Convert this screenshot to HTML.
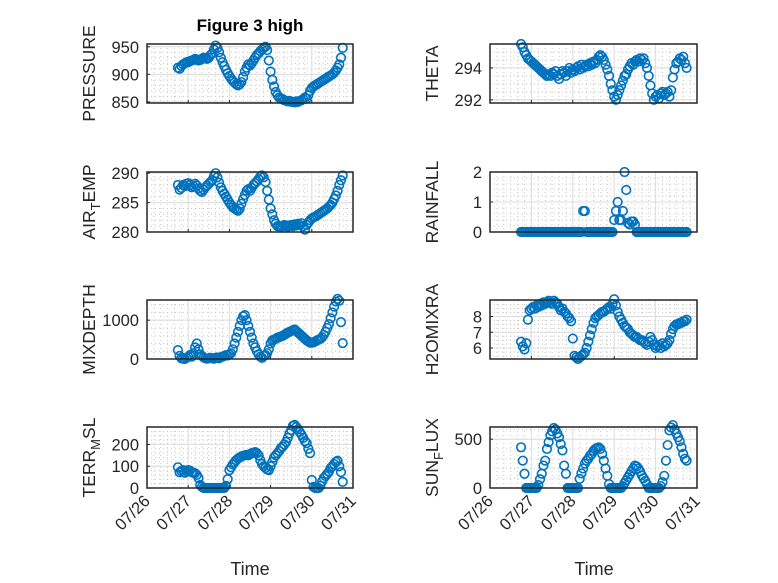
<!DOCTYPE html>
<html><head><meta charset="utf-8"><style>
html,body{margin:0;padding:0;background:#fff;}
svg{display:block;font-family:"Liberation Sans",sans-serif;}
</style></head><body>
<svg id="fig" width="778" height="583" viewBox="0 0 778 583" xmlns="http://www.w3.org/2000/svg">
<rect x="0" y="0" width="778" height="583" fill="#fff"/>
<text x="250" y="31" text-anchor="middle" font-size="17" font-weight="bold" fill="#000">Figure 3 high</text>
<text x="250" y="575" text-anchor="middle" font-size="18" fill="#262626">Time</text>
<text x="594" y="575" text-anchor="middle" font-size="18" fill="#262626">Time</text>
</svg>
<script>
const dayTicks = [26, 27, 28, 29, 30, 31];
const dayLabels = ["07/26", "07/27", "07/28", "07/29", "07/30", "07/31"];
const startDay = 26.75;
const hoursPerStep = 1;
const pressure = [912,910,915,918,920,922,922,
924,925,926,928,927,925,926,928,930,929,928,930,
935,938,945,952,948,940,
930,922,915,908,902,897,
892,888,885,882,880,882,886,
895,905,912,918,916,920,
925,930,935,938,942,945,
948,950,944,925,905,
890,878,868,862,858,856,
855,853,852,851,852,850,
850,849,851,850,852,853,
855,858,856,862,870,875,
878,880,882,884,886,888,
890,892,894,896,898,900,
903,907,912,918,930,948];
const theta = [295.5,295.3,295.0,294.8,294.6,294.5,294.4,
294.3,294.2,294.1,294.0,293.9,293.8,293.7,293.6,293.5,293.6,293.5,293.7,
293.6,293.8,293.5,293.3,293.6,293.8,
293.7,293.5,293.8,294.0,293.7,293.9,
293.8,294.0,294.1,293.9,294.2,294.0,294.1,
294.2,294.1,294.3,294.2,294.4,294.3,
294.5,294.7,294.8,294.7,294.5,294.2,
293.9,293.5,293.0,292.6,292.2,
292.0,292.3,292.6,292.9,293.2,293.5,
293.6,293.9,294.1,294.3,294.2,294.4,
294.5,294.4,294.6,294.5,294.6,294.3,
294.0,293.5,292.9,292.4,292.0,292.2,
292.3,292.1,292.4,292.5,292.3,292.4,
292.5,292.2,292.6,293.4,293.9,294.3,
294.4,294.6,294.5,294.7,294.3,294.0];
const airTemp = [288.0,287.2,287.5,288.0,287.8,288.2,288.3,
288.0,287.6,287.8,288.2,287.9,287.4,287.0,286.8,287.2,287.6,287.9,288.2,
288.5,288.8,289.5,290.0,289.3,288.4,
287.6,287.0,286.5,286.0,285.5,285.0,
284.6,284.2,284.0,283.8,283.6,284.0,284.8,
285.6,286.3,287.0,287.3,287.0,287.5,
288.0,288.3,288.6,289.0,289.4,289.6,
289.3,288.5,287.0,285.5,284.0,
283.0,282.0,281.4,281.0,281.0,280.9,
281.0,281.2,281.0,280.9,281.1,281.2,
281.0,281.3,281.1,281.4,281.2,281.5,
281.0,280.4,281.2,281.6,282.0,282.3,
282.5,282.6,282.8,283.0,283.2,283.4,
283.6,283.8,284.0,284.3,284.6,285.0,
285.6,286.2,287.0,288.0,288.8,289.6];
const rainfall = [0,0,0,0,0,0,0,
0,0,0,0,0,0,0,0,0,0,0,0,
0,0,0,0,0,0,
0,0,0,0,0,0,
0,0,0,0,0,0.7,0.7,
0,0,0,0,0,0,
0,0,0,0,0,0,
0,0,0,0,0.4,
0.7,1.0,0.4,0.4,0.7,2.0,
1.4,0.3,0.25,0.35,0.35,0.25,
0,0,0,0,0,0,
0,0,0,0,0,0,
0,0,0,0,0,0,
0,0,0,0,0,0,
0,0,0,0,0,0];
const mixDepth = [230,80,20,10,0,30,60,
100,60,150,300,400,250,120,80,40,20,10,20,
30,20,10,30,40,20,
50,60,80,100,90,120,
150,250,400,550,700,850,1000,
1100,1130,1000,850,700,550,
400,300,200,120,60,30,
80,100,150,250,400,
480,500,520,550,560,580,
600,620,650,680,700,720,
740,760,720,680,640,600,
560,520,480,450,420,420,
430,450,480,500,520,560,
620,700,800,900,1050,1200,
1350,1480,1550,1500,950,410];
const h2oMix = [6.4,6.1,5.9,6.3,7.8,8.4,8.5,
8.6,8.5,8.7,8.6,8.8,8.7,8.9,8.8,8.9,9.0,8.9,8.8,
9.0,8.9,8.8,8.6,8.4,8.5,
8.3,8.2,8.0,7.9,7.7,6.6,
5.5,5.4,5.3,5.4,5.5,5.6,5.7,
6.0,6.4,6.8,7.2,7.6,7.9,
8.0,8.1,8.2,8.3,8.3,8.4,
8.5,8.6,8.5,8.8,9.1,
8.7,8.3,8.0,7.8,7.6,7.4,
7.3,7.2,7.0,6.9,6.8,6.7,
6.7,6.6,6.5,6.5,6.4,6.3,
6.2,6.4,6.7,6.5,6.2,6.0,
6.1,6.2,6.0,6.3,6.1,6.2,
6.3,6.5,6.9,7.2,7.4,7.5,
7.5,7.6,7.6,7.7,7.7,7.8];
const terrMsl = [95,72,78,82,70,76,82,
80,72,70,68,60,46,14,5,0,0,0,0,
0,0,0,0,0,0,
0,0,0,10,40,82,
95,108,118,128,135,140,145,
148,150,152,150,155,160,
162,165,160,150,128,110,
100,92,85,82,100,
120,140,150,160,170,183,
190,200,211,230,250,266,
285,290,280,270,257,245,
230,215,206,180,160,37,
5,0,0,0,10,30,
46,55,65,75,92,100,
110,120,125,100,73,28];
const sunFlux = [417,280,146,0,0,0,0,
0,0,0,30,90,146,230,280,400,470,540,580,
615,600,560,520,450,385,
230,146,0,0,0,0,
0,0,0,94,150,200,250,
280,300,330,350,380,400,
410,417,400,350,280,200,
125,40,0,0,0,
0,0,0,0,20,50,
80,110,140,170,200,230,
220,200,170,130,100,73,
40,0,0,0,0,0,
0,0,20,60,125,280,
440,590,620,645,600,560,
520,480,417,350,300,280];

const panelNames = ["pressure","theta","air-temp","rainfall","mixdepth","h2omixra","terr-msl","sunflux"];
const panelLabels = [["PRESSURE"],["THETA"],["AIR","T","EMP"],["RAINFALL"],["MIXDEPTH"],["H2OMIXRA"],["TERR","M","SL"],["SUN","F","LUX"]];
const panelSeries = [pressure, theta, airTemp, rainfall, mixDepth, h2oMix, terrMsl, sunFlux];
const panelYLim = [[848,955],[291.8,295.5],[280,290.2],[0,2],[0,1520],[5.3,9.05],[0,280],[0,625]];
const panelYTicks = [[850,900,950],[292,294],[280,285,290],[0,1,2],[0,1000],[6,7,8],[0,100,200],[0,500]];
const panelYMinor = [10,0.5,1,0.2,200,0.25,20,100];

const svg = document.getElementById('fig');
const NS = 'http://www.w3.org/2000/svg';
const colX = [[147,353],[490,697]];
const rowY = [[44,103],[172,232],[300,359],[427,488]];
function mk(tag, attrs, parent){const e=document.createElementNS(NS,tag);for(const k in attrs)e.setAttribute(k,attrs[k]);(parent||svg).appendChild(e);return e;}

panelSeries.forEach((vals, p) => {
  const col = p % 2, row = Math.floor(p / 2);
  const [x0,x1] = colX[col], [y0,y1] = rowY[row];
  const [ymin,ymax] = panelYLim[p];
  const xs = d => x0 + (d - dayTicks[0]) / (dayTicks[dayTicks.length-1] - dayTicks[0]) * (x1 - x0);
  const ys = v => y1 - (v - ymin) / (ymax - ymin) * (y1 - y0);
  const g = mk('g', {});
  
  
  for (let d = dayTicks[0]; d < dayTicks[dayTicks.length-1]; d += 1/6) {
    if (Math.abs(d - Math.round(d)) < 1e-6) continue;
    const l = mk('line', {x1:xs(d),x2:xs(d),y1:y0,y2:y1,stroke:'#c8c8c8','stroke-width':1,'stroke-dasharray':'1,3'}, g);
    
    
  }
  const mstep = panelYMinor[p];
  for (let v = Math.ceil(ymin / mstep) * mstep; v <= ymax + 1e-9; v += mstep) {
    const l = mk('line', {x1:x0,x2:x1,y1:ys(v),y2:ys(v),stroke:'#c8c8c8','stroke-width':1,'stroke-dasharray':'1,3'}, g);
    
    
  }
  dayTicks.forEach(d => {
    const l = mk('line', {x1:xs(d),x2:xs(d),y1:y0,y2:y1,stroke:'#dcdcdc','stroke-width':1}, g);
    
    
  });
  panelYTicks[p].forEach(v => {
    const l = mk('line', {x1:x0,x2:x1,y1:ys(v),y2:ys(v),stroke:'#dcdcdc','stroke-width':1}, g);
    
    
    const tl = mk('line', {x1:x0,x2:x0+3,y1:ys(v),y2:ys(v),stroke:'#262626','stroke-width':1}, g);
    
    
    const t = mk('text', {x:x0-8,y:ys(v)+6,'text-anchor':'end','font-size':16.5,fill:'#262626'}, g);
    t.textContent = String(v);
    
    
  });
  dayTicks.forEach((d,i) => {
    const tl = mk('line', {x1:xs(d),x2:xs(d),y1:y1,y2:y1-3,stroke:'#262626','stroke-width':1}, g);
    
    
    if (row === 3) {
      const tx = xs(d) + 4, ty = y1 + 14;
      const t = mk('text', {x:tx,y:ty,'text-anchor':'end','font-size':16.5,fill:'#262626',transform:`rotate(-45 ${tx} ${ty})`}, g);
      t.textContent = dayLabels[i];
      
      
    }
  });
  vals.forEach((v, i) => {
    const d = startDay + i * hoursPerStep / 24;
    const c = mk('circle', {cx:xs(d),cy:ys(v),r:4.3,fill:'none',stroke:'#0072BD','stroke-width':1.6}, g);
    
    
  });
  const b = mk('rect', {x:x0,y:y0,width:x1-x0,height:y1-y0,fill:'none',stroke:'#262626','stroke-width':1.5}, g);
  
  
  const lx = col === 0 ? 95 : 438, ly = (y0 + y1) / 2;
  const yl = mk('text', {x:lx,y:ly,'text-anchor':'middle','font-size':17.5,fill:'#262626',transform:`rotate(-90 ${lx} ${ly})`}, g);
  
  
  const parts = panelLabels[p];
  if (parts.length === 1) { yl.textContent = parts[0]; }
  else {
    const a = mk('tspan', {}, yl); a.textContent = parts[0];
    const s = mk('tspan', {dy:5,'font-size':13}, yl); s.textContent = parts[1];
    const e = mk('tspan', {dy:-5}, yl); e.textContent = parts[2];
  }
});
</script>
</body></html>
